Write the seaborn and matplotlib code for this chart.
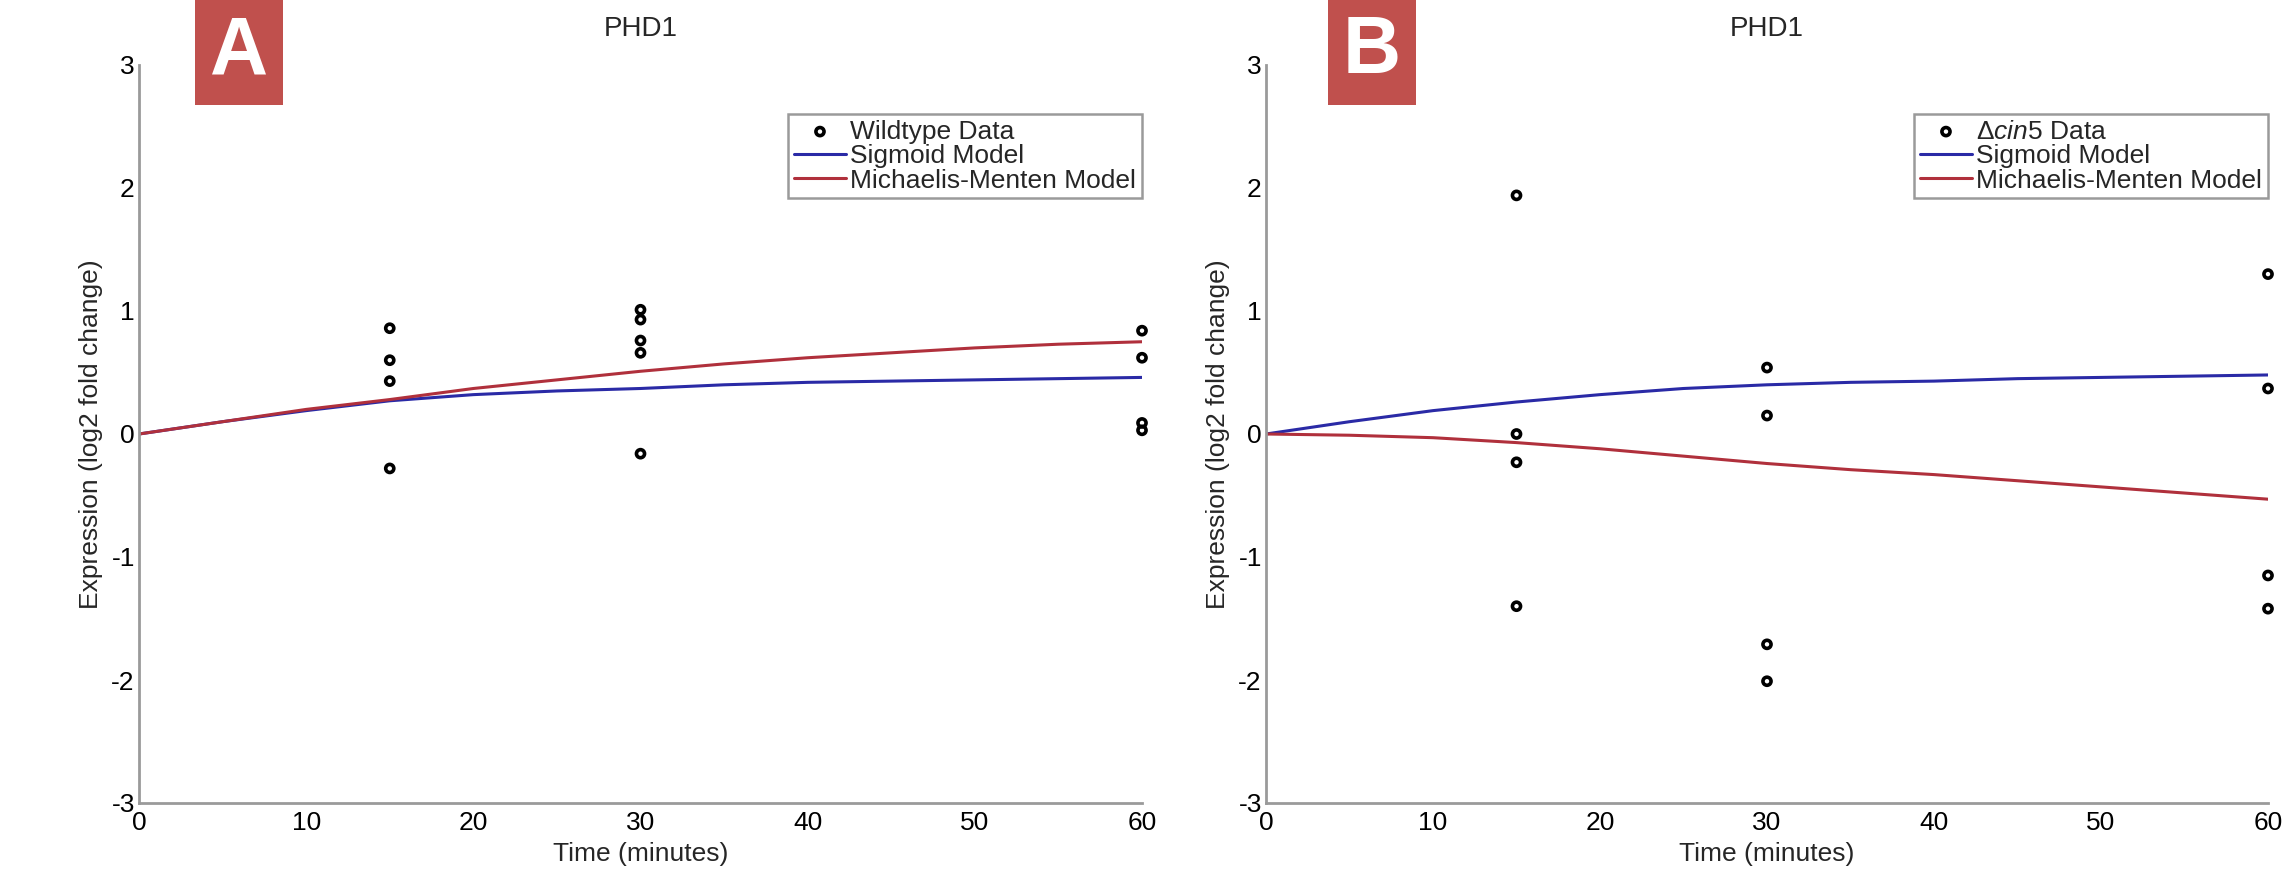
import matplotlib
matplotlib.use("Agg")
import matplotlib.pyplot as plt
from matplotlib import font_manager
from matplotlib.patches import Rectangle
import seaborn as sns

# ---------------- data ----------------
panel_labels = ["A", "B"]
titles = ["PHD1", "PHD1"]
data_labels = ["Wildtype Data", r"$\Delta\mathit{cin5}$ Data"]
model_labels = ["Sigmoid Model", "Michaelis-Menten Model"]

x_ticks = [0, 10, 20, 30, 40, 50, 60]
y_ticks = [-3, -2, -1, 0, 1, 2, 3]

# Panel A: wildtype measurements
a_time = [15, 15, 15, 15, 30, 30, 30, 30, 30, 60, 60, 60, 60]
a_expr = [0.86, 0.60, 0.43, -0.28, 1.01, 0.93, 0.76, 0.66, -0.16, 0.84, 0.62, 0.09, 0.03]

# Panel B: delta-cin5 measurements
b_time = [15, 15, 15, 15, 30, 30, 30, 30, 60, 60, 60, 60]
b_expr = [1.94, 0.00, -0.23, -1.40, 0.54, 0.15, -1.71, -2.01, 1.30, 0.37, -1.15, -1.42]

# model curves
model_time = [0, 5, 10, 15, 20, 25, 30, 35, 40, 45, 50, 55, 60]
a_sigmoid = [0.0, 0.10, 0.19, 0.27, 0.32, 0.35, 0.37, 0.40, 0.42, 0.43, 0.44, 0.45, 0.46]
a_mm = [0.0, 0.10, 0.20, 0.28, 0.37, 0.44, 0.51, 0.57, 0.62, 0.66, 0.70, 0.73, 0.75]
b_sigmoid = [0.0, 0.10, 0.19, 0.26, 0.32, 0.37, 0.40, 0.42, 0.43, 0.45, 0.46, 0.47, 0.48]
b_mm = [0.0, -0.01, -0.03, -0.07, -0.12, -0.18, -0.24, -0.29, -0.33, -0.38, -0.43, -0.48, -0.53]

# ---------------- style ----------------
sns.set_theme(style="white")
available = {f.name for f in font_manager.fontManager.ttflist}
if "Liberation Sans Narrow" in available:
    fam = ["Liberation Sans Narrow", "DejaVu Sans"]
    fs = 21
else:
    fam = ["Liberation Sans", "DejaVu Sans"]
    fs = 19
plt.rcParams["font.family"] = fam
plt.rcParams["mathtext.fontset"] = "custom"
plt.rcParams["mathtext.it"] = fam[0] + ":italic"
plt.rcParams["mathtext.rm"] = fam[0]

BLUE = "#2a2aa6"
RED = "#b0303c"
SPINE = "#9a9a9a"
LABEL_RED = "#c0504d"

W, H = 2296, 876
fig = plt.figure(figsize=(W / 100, H / 100), dpi=100)

ax_rects = [
    [139 / W, (H - 803) / H, 1003 / W, 738 / H],
    [1266 / W, (H - 803) / H, 1002 / W, 738 / H],
]
panels = [
    (a_time, a_expr, a_sigmoid, a_mm),
    (b_time, b_expr, b_sigmoid, b_mm),
]
label_boxes = [195, 1328]

for i, (rect, (t, e, sig, mm)) in enumerate(zip(ax_rects, panels)):
    ax = fig.add_axes(rect)
    sns.scatterplot(x=t, y=e, ax=ax, marker="o", s=34, color="none",
                    edgecolor="black", linewidth=2.6, label=data_labels[i],
                    zorder=3, clip_on=False)
    sns.lineplot(x=model_time, y=sig, ax=ax, color=BLUE, linewidth=2.2,
                 label=model_labels[0], zorder=2)
    sns.lineplot(x=model_time, y=mm, ax=ax, color=RED, linewidth=2.2,
                 label=model_labels[1], zorder=2)

    ax.set_xlim(0, 60)
    ax.set_ylim(-3, 3)
    ax.set_xticks(x_ticks)
    ax.set_yticks(y_ticks)
    ax.set_xticklabels([str(v) for v in x_ticks])
    ax.set_yticklabels([str(v) for v in y_ticks])
    ax.tick_params(axis="both", direction="in", length=7, width=1.2,
                   color=SPINE, labelsize=fs, pad=3, labelcolor="black")
    ax.tick_params(axis="x", pad=6)
    for side in ["top", "right"]:
        ax.spines[side].set_visible(False)
    for side in ["left", "bottom"]:
        ax.spines[side].set_color(SPINE)
        ax.spines[side].set_linewidth(2.0)
    ax.set_xlabel("Time (minutes)", fontsize=fs, labelpad=5)
    ax.set_ylabel("Expression (log2 fold change)", fontsize=fs, labelpad=6)
    ax.set_title(titles[i], fontsize=fs + 1, pad=21)
    ax.grid(False)

    leg = ax.legend(loc="upper right", bbox_to_anchor=(1.0, 0.934), fontsize=fs,
                    frameon=True, fancybox=False, edgecolor=SPINE, framealpha=1,
                    borderpad=0.22, labelspacing=0.02, handlelength=2.0,
                    handletextpad=0.15, borderaxespad=0.0)
    leg.get_frame().set_linewidth(1.8)

    # panel letter box
    bx = label_boxes[i]
    fig.add_artist(Rectangle((bx / W, 1 - 105 / H), 88 / W, 105 / H,
                             transform=fig.transFigure, facecolor=LABEL_RED,
                             edgecolor="none", zorder=5))
    fig.text((bx + 44) / W, 1 - 52 / H, panel_labels[i], color="white",
             fontsize=58, fontweight="bold", ha="center", va="center",
             family=["Liberation Sans", "DejaVu Sans"], zorder=6)

fig.savefig("out.png", dpi=100, facecolor="white")
